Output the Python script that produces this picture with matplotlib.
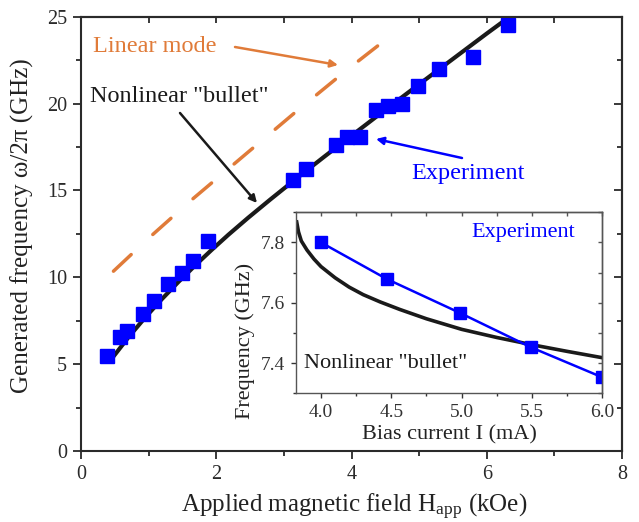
import matplotlib
matplotlib.use("Agg")
import matplotlib.pyplot as plt
import numpy as np

plt.rcParams['font.family'] = ['Liberation Serif', 'DejaVu Serif']
plt.rcParams['mathtext.fontset'] = 'custom'
plt.rcParams['mathtext.rm'] = 'Liberation Serif'
plt.rcParams['mathtext.it'] = 'Liberation Serif:italic'

# ---- main panel data ----
exp_H = [0.38, 0.57, 0.68, 0.91, 1.08, 1.28, 1.49, 1.66, 1.88, 3.13, 3.33,
         3.77, 3.94, 4.13, 4.36, 4.54, 4.75, 4.98, 5.29, 5.80, 6.31]
exp_f = [5.44, 6.59, 6.88, 7.90, 8.66, 9.60, 10.24, 10.95, 12.10, 15.60, 16.25,
         17.60, 18.06, 18.06, 19.65, 19.85, 20.00, 21.00, 22.00, 22.70, 24.50]

bullet_H = [0.48, 0.70, 0.95, 1.19, 1.44, 1.69, 1.93, 2.18, 2.47, 2.80, 3.19,
            3.60, 4.00, 4.50, 5.00, 5.50, 6.00, 6.34]
bullet_f = [5.44, 6.54, 7.69, 8.72, 9.73, 10.69, 11.57, 12.45, 13.42, 14.48, 15.70,
            16.95, 18.15, 19.64, 21.11, 22.57, 24.03, 25.00]

linear_H = [0.48, 1.0, 1.64, 2.5, 3.2, 3.94, 4.71]
linear_f = [10.35, 12.25, 14.47, 17.3, 19.6, 21.96, 24.3]

# ---- inset data ----
inset_I = [4.0, 4.467, 4.99, 5.49, 6.0]
inset_f = [7.80, 7.679, 7.566, 7.453, 7.353]

inset_bullet_I = [3.827, 3.84, 3.86, 3.90, 3.95, 4.00, 4.10, 4.20, 4.30, 4.42,
                  4.56, 4.75, 5.00, 5.25, 5.50, 5.75, 6.00]
inset_bullet_f = [7.868, 7.835, 7.805, 7.775, 7.745, 7.720, 7.683, 7.652, 7.627, 7.603,
                  7.578, 7.547, 7.512, 7.485, 7.461, 7.439, 7.418]

W, H = 639, 522
fig = plt.figure(figsize=(W / 100, H / 100), dpi=100)

spine_c = '#2a2a2a'
orange = '#E07B39'

ax = fig.add_axes([81 / W, 1 - 451 / H, (622 - 81) / W, (451 - 16.7) / H])
ax.plot(linear_H, linear_f, color=orange, lw=2.5, dashes=(7, 8.5),
        solid_capstyle='round', dash_capstyle='round')
ax.plot(bullet_H, bullet_f, color='#1a1a1a', lw=3, solid_capstyle='round',
        solid_joinstyle='round')
ax.plot(exp_H, exp_f, ls='none', marker='s', ms=9.5, color='#0000FF', mec='#0000FF')
ax.set_xlim(0, 8)
ax.set_ylim(0, 25)
ax.set_xticks([0, 2, 4, 6, 8])
ax.set_xticks([1, 3, 5, 7], minor=True)
ax.set_yticks([0, 5, 10, 15, 20, 25])
ax.set_yticks([2.5, 7.5, 12.5, 17.5, 22.5], minor=True)
ax.tick_params(which='both', direction='out', labelsize=14.5, colors=spine_c, width=1.3, pad=4)
ax.tick_params(which='major', length=6)
ax.tick_params(which='minor', length=3.5)
for s in ax.spines.values():
    s.set_linewidth(1.5)
    s.set_color(spine_c)
ax.set_xlabel(r'Applied magnetic field H$_{\mathrm{app}}$ (kOe)', fontsize=18, color='#222222')
ax.set_ylabel('Generated frequency ω/2π (GHz)', fontsize=18, color='#222222')
ax.xaxis.label.set_verticalalignment('center')
ax.yaxis.label.set_verticalalignment('center')
ax.xaxis.set_label_coords(0.505, -0.129)
ax.yaxis.set_label_coords(-0.109, 0.52)

secx = ax.secondary_xaxis('top')
secx.set_xticks([0, 1, 2, 3, 4, 5, 6, 7, 8])
secx.tick_params(direction='in', length=4, width=1.3, labeltop=False, colors=spine_c)
secy = ax.secondary_yaxis('right')
secy.set_yticks([0, 5, 10, 15, 20, 25])
secy.set_yticks([2.5, 7.5, 12.5, 17.5, 22.5], minor=True)
secy.tick_params(which='major', direction='in', length=6, width=1.3, labelright=False, colors=spine_c)
secy.tick_params(which='minor', direction='in', length=3.5, width=1.3, labelright=False, colors=spine_c)
for sa in (secx, secy):
    for s in sa.spines.values():
        s.set_linewidth(1.5)
        s.set_color(spine_c)

# ---- inset ----
ins_c = '#555555'
ax2 = fig.add_axes([295.7 / W, 1 - 393.3 / H, (602.3 - 295.7) / W, (393.3 - 212.3) / H])
ax2.plot(inset_bullet_I, inset_bullet_f, color='#1a1a1a', lw=2.6, solid_joinstyle='round')
ax2.plot(inset_I, inset_f, color='#0000FF', lw=1.8, marker='s', ms=9, mec='#0000FF')
ax2.set_xlim(3.82, 6.0)
ax2.set_ylim(7.3, 7.9)
ax2.set_xticks([4.0, 4.5, 5.0, 5.5, 6.0])
ax2.set_xticks([4.25, 4.75, 5.25, 5.75], minor=True)
ax2.set_yticks([7.4, 7.6, 7.8])
ax2.set_yticks([7.3, 7.5, 7.7, 7.9], minor=True)
ax2.tick_params(which='both', direction='out', labelsize=14, colors='#333333', width=1.0, pad=4)
ax2.tick_params(which='major', length=3.5)
ax2.tick_params(which='minor', length=2.5)
for s in ax2.spines.values():
    s.set_linewidth(1.0)
    s.set_color(ins_c)
ax2.set_xlabel('Bias current I (mA)', fontsize=16, color='#222222')
ax2.set_ylabel('Frequency (GHz)', fontsize=16, color='#222222')
ax2.xaxis.label.set_verticalalignment('center')
ax2.yaxis.label.set_verticalalignment('center')
ax2.xaxis.set_label_coords(0.5, -0.23)
ax2.yaxis.set_label_coords(-0.165, 0.29)
s2x = ax2.secondary_xaxis('top')
s2x.set_xticks([4.0, 4.25, 4.5, 4.75, 5.0, 5.25, 5.5, 5.75, 6.0])
s2x.tick_params(direction='in', length=3, width=1.0, labeltop=False, colors=ins_c)
s2y = ax2.secondary_yaxis('right')
s2y.set_yticks([7.3, 7.4, 7.5, 7.6, 7.7, 7.8, 7.9])
s2y.tick_params(direction='in', length=3, width=1.0, labelright=False, colors=ins_c)
for sa in (s2x, s2y):
    for s in sa.spines.values():
        s.set_linewidth(1.0)
        s.set_color(ins_c)


def P(x, y):
    return (x, H - y)


def note(text, xy_text, color, fs, arrow_from, arrow_to):
    fig.text(xy_text[0] / W, 1 - xy_text[1] / H, text, color=color, fontsize=fs,
             ha='left', va='center')
    ax.annotate('', xy=P(*arrow_to), xycoords='figure pixels',
                xytext=P(*arrow_from), textcoords='figure pixels',
                arrowprops=dict(arrowstyle='-|>', color=color, lw=1.8,
                                mutation_scale=11, shrinkA=0, shrinkB=0),
                annotation_clip=False)


note('Linear mode', (93, 47), orange, 17.5, (235, 47), (338, 65))
note('Nonlinear "bullet"', (90, 97), '#1a1a1a', 17.5, (180, 113), (257, 203))
note('Experiment', (411, 173), '#0000FF', 17.5, (462, 158), (376, 139))
note('Experiment', (471, 232), '#0000FF', 16, (472, 239), (410, 280))
note('Nonlinear "bullet"', (304, 363), '#1a1a1a', 16, (371, 359), (403, 320))

fig.savefig('out.png', dpi=100)
